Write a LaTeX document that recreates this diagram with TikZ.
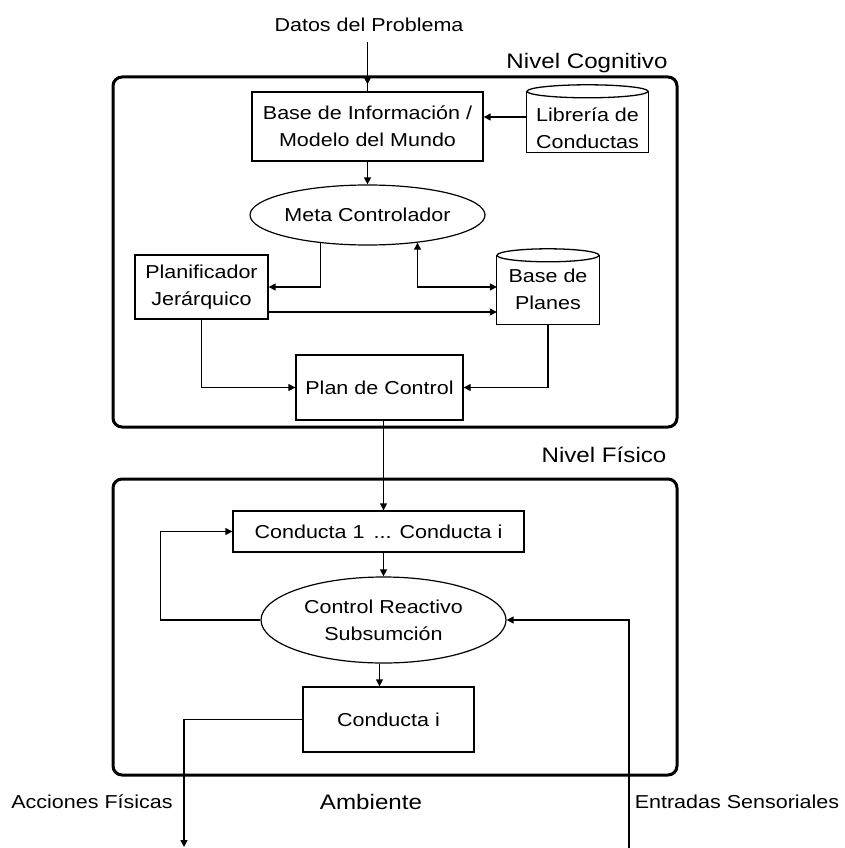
\documentclass[tikz,border=0pt]{standalone}
\usepackage{fontspec}
\setmainfont{Liberation Sans}[FakeStretch=1.15]
\usetikzlibrary{arrows.meta,calc,shapes.geometric}
\newcommand\smalltxt{\fontsize{18.7}{27}\selectfont}
\newcommand\bigtxt{\fontsize{21}{27}\selectfont}
\begin{document}
\begin{tikzpicture}[x=1pt,y=-1pt,
  frame/.style={line width=3pt, rounded corners=9pt},
  box/.style={draw, line width=1.3pt, inner sep=0pt, align=center, font=\smalltxt},
  oval/.style={draw, ellipse, line width=1.2pt, inner sep=0pt, align=center, font=\smalltxt},
  cylbody/.style={inner sep=0pt, align=center, font=\smalltxt},
  lbl/.style={inner sep=0pt, align=center, font=\smalltxt},
  big/.style={inner sep=0pt, font=\bigtxt},
  link/.style={line width=1.3pt, -{Triangle[length=7pt,width=7pt]}},
  both/.style={line width=1.3pt, {Triangle[length=7pt,width=7pt]}-{Triangle[length=7pt,width=7pt]}},
  wire/.style={line width=1.3pt}]
\useasboundingbox (0,0) rectangle (844,848);

% ---------- cognitive level ----------
\node[lbl] (datos) at (369,25) {Datos del Problema};
\node[big] (ncog) at (587,63) {Nivel Cognitivo};
\draw[frame] (113,77) rectangle (677,427);

\node[box, minimum width=231, minimum height=69] (base) at (367.5,126.5)
  {Base de Información /\\Modelo del Mundo};

% behaviour library (cylinder)
\node[cylbody, minimum width=121, minimum height=60.5] (lib) at (587.5,121.75) {};
\draw[wire] (lib.north west) -- (lib.south west) -- (lib.south east) -- (lib.north east);
\draw[wire] (lib.north) ellipse [x radius=60.5, y radius=6.5];
\node[lbl] (libtxt) at (587.5,128.5) {Librería de\\Conductas};

\node[oval, minimum width=226, minimum height=60] (meta) at (367.5,215) {Meta Controlador};
\node[box, minimum width=133, minimum height=64] (plan) at (201.5,287) {Planificador\\Jerárquico};

% plan base (cylinder)
\node[cylbody, minimum width=102, minimum height=68.5] (planes) at (548,289.75) {Base de\\Planes};
\draw[wire] (planes.north west) -- (planes.south west) -- (planes.south east) -- (planes.north east);
\draw[wire] (planes.north) ellipse [x radius=51, y radius=6.5];

\node[box, minimum width=167, minimum height=65] (ctrl) at (379.5,387.5) {Plan de Control};

\coordinate (din) at (367.5,42);
\coordinate (r117) at (0,117);
\coordinate (r287) at (0,287);
\coordinate (r312) at (0,312);

% problem data enters through the frame, tip just inside it
\draw[link] (din) -- ($(base.north)+(0,-7)$);
\draw[wire] ($(base.north)+(0,-8)$) -- (base.north);
\draw[link] (lib.west |- r117) -- (base.east |- r117);
\draw[link] (base.south) -- (meta.north);
\draw[link] (meta.211.4) |- (plan.east);
\draw[both] (meta.331.7) |- (planes.west |- r287);
\draw[link] (plan.east |- r312) -- (planes.west |- r312);
\draw[link] (plan.south) |- (ctrl.west);
\draw[link] (planes.south) |- (ctrl.east);

% ---------- physical level ----------
\node[big] (nfis) at (604,455) {Nivel Físico};
\draw[frame] (113,479) rectangle (677,775);

\node[box, minimum width=291, minimum height=41] (cond1) at (378.5,531.5) {Conducta 1 \,... Conducta i};
\node[oval, minimum width=245, minimum height=86] (react) at (383.5,620) {Control Reactivo\\Subsumción};
\node[box, minimum width=171, minimum height=65] (condi) at (388.5,719.5) {Conducta i};

\draw[link] (ctrl.south -| react.north) -- (react.north |- cond1.north);
\draw[link] (cond1.south -| react.north) -- (react.north);
\draw[link] (react.west) -- ++(-100,0) |- (cond1.west);
\draw[link] (react.south) ++(-4,0) coordinate (rs) -- (rs |- condi.north);

% ---------- environment ----------
\node[lbl] (acc) at (92,802) {Acciones Físicas};
\node[big] (amb) at (371,802) {Ambiente};
\node[lbl] (ent) at (737,802) {Entradas Sensoriales};

\coordinate (accend) at (184,847);
\coordinate (entstart) at (629,848);
\draw[link] (condi.west) -| (accend);
\draw[link] (entstart) |- (react.east);
\end{tikzpicture}
\end{document}
